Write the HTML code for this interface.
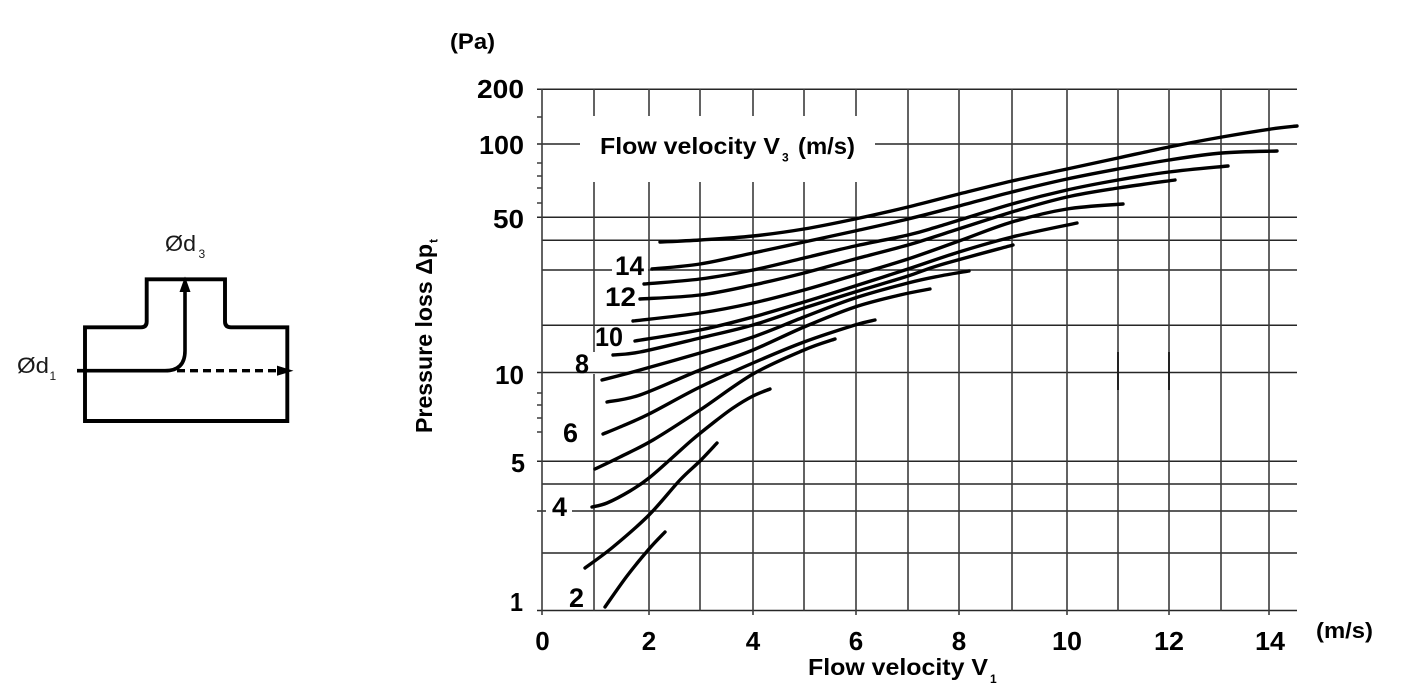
<!DOCTYPE html>
<html>
<head>
<meta charset="utf-8">
<style>
  html, body { margin: 0; padding: 0; background: #ffffff; }
  svg { display: block; }
  text { font-family: "Liberation Sans", Arial, sans-serif; }
</style>
</head>
<body>
<svg id="chart" width="1404" height="699" viewBox="0 0 1404 699" xmlns="http://www.w3.org/2000/svg">
  <rect x="0" y="0" width="1404" height="699" fill="#ffffff"/>

  <!-- ================= Horizontal grid lines ================= -->
  <g stroke="#262626" stroke-width="1.5" fill="none">
    <line x1="537" y1="89.3" x2="1297" y2="89.3"/>
    <line x1="537" y1="144" x2="580" y2="144"/>
    <line x1="875" y1="144" x2="1297" y2="144"/>
    <line x1="537" y1="217.3" x2="1297" y2="217.3"/>
    <line x1="542" y1="240.3" x2="1297" y2="240.3"/>
    <line x1="542" y1="270" x2="1297" y2="270"/>
    <line x1="542" y1="325.3" x2="1297" y2="325.3"/>
    <line x1="537" y1="372.5" x2="1297" y2="372.5"/>
    <line x1="537" y1="461.3" x2="1297" y2="461.3"/>
    <line x1="542" y1="484" x2="1297" y2="484"/>
    <line x1="537" y1="511" x2="546" y2="511"/>
    <line x1="572" y1="511" x2="1297" y2="511"/>
    <line x1="542" y1="553" x2="1297" y2="553"/>
    <line x1="537" y1="610.5" x2="1297" y2="610.5"/>
  </g>

  <!-- minor ticks on left axis -->
  <g stroke="#2e2e2e" stroke-width="1.4">
    <line x1="537" y1="117" x2="542" y2="117"/>
    <line x1="537" y1="163" x2="542" y2="163"/>
    <line x1="537" y1="176" x2="542" y2="176"/>
    <line x1="537" y1="188" x2="542" y2="188"/>
    <line x1="537" y1="203" x2="542" y2="203"/>
    <line x1="537" y1="393" x2="542" y2="393"/>
    <line x1="537" y1="405" x2="542" y2="405"/>
    <line x1="537" y1="418" x2="542" y2="418"/>
    <line x1="537" y1="432" x2="542" y2="432"/>
  </g>

  <!-- ================= Vertical grid lines ================= -->
  <g stroke="#3c3c3c" stroke-width="1.6" fill="none">
    <line x1="542" y1="89" x2="542" y2="615"/>
    <line x1="594" y1="89" x2="594" y2="116"/>
    <line x1="594" y1="182" x2="594" y2="352"/>
    <line x1="594" y1="374" x2="594" y2="610.5"/>
    <line x1="649" y1="89" x2="649" y2="116"/>
    <line x1="649" y1="182" x2="649" y2="615"/>
    <line x1="700" y1="89" x2="700" y2="116"/>
    <line x1="700" y1="182" x2="700" y2="610.5"/>
    <line x1="753" y1="89" x2="753" y2="116"/>
    <line x1="753" y1="182" x2="753" y2="615"/>
    <line x1="804" y1="89" x2="804" y2="116"/>
    <line x1="804" y1="182" x2="804" y2="610.5"/>
    <line x1="856" y1="89" x2="856" y2="116"/>
    <line x1="856" y1="182" x2="856" y2="615"/>
    <line x1="908" y1="89" x2="908" y2="610.5"/>
    <line x1="959" y1="89" x2="959" y2="615"/>
    <line x1="1012" y1="89" x2="1012" y2="610.5"/>
    <line x1="1067" y1="89" x2="1067" y2="615"/>
    <line x1="1118" y1="89" x2="1118" y2="610.5"/>
    <line x1="1169" y1="89" x2="1169" y2="615"/>
    <line x1="1221" y1="89" x2="1221" y2="610.5"/>
    <line x1="1269" y1="89" x2="1269" y2="615"/>
  </g>
  <!-- small darker marks -->
  <g stroke="#1c1c1c" stroke-width="1.9">
    <line x1="1118" y1="352" x2="1118" y2="390"/>
    <line x1="1169" y1="352" x2="1169" y2="390"/>
  </g>

  <!-- ================= Curves ================= -->
  <g id="curves" fill="none" stroke="#000" stroke-width="3.4" stroke-linecap="round" stroke-linejoin="round">
    <polyline points="660,242 700,240 753,236 804,229 855,219 908,207 959,194 1012,181 1067,169 1118,158 1169,147 1222,137 1271,129 1297,126"/>
    <polyline points="652,269 700,264 753,253 804,242 855,231 908,219 959,206 1012,192 1067,179 1118,169 1169,160 1222,153 1277,151"/>
    <polyline points="644,284 700,279 753,270 804,258 855,246 908,235 940,226 1012,204 1067,190 1118,180 1169,172 1228,166"/>
    <polyline points="640,299 700,295 753,285 804,273 855,259 908,245 940,235 1012,212 1067,197 1118,188 1175,180"/>
    <polyline points="633,321 700,313 753,303 804,290 855,275 908,259 959,241 1012,222 1067,209 1123,204"/>
    <polyline points="635,341 700,330 753,317 804,302 855,286 908,269 959,252 1012,237 1077,223"/>
    <polyline points="613,355 640,352 700,338 753,325 804,308 855,292 908,276 940,265 1013,245"/>
    <polyline points="602,380 640,370 700,353 753,337 804,317 855,298 908,283 940,276 969,271"/>
    <polyline points="607,402 640,395 700,370 753,350 804,327 855,307 900,295 930,289"/>
    <polyline points="603,434 620,427 649,414 700,387 753,363 804,342 855,325 875,320"/>
    <polyline points="595,469 620,457 653,440 700,410 753,374 804,350 835,339"/>
    <polyline points="592,507 607,503 630,491 649,478 673,457 692,440 713,423 733,408 753,396 770,389"/>
    <polyline points="585,568 613,547 649,515 680,480 700,461 717,443"/>
    <polyline points="605,607 627,576 649,549 665,532"/>
  </g>

  <!-- ================= Curve labels ================= -->
  <rect x="612" y="253" width="36" height="24" fill="#fff"/>
  <g font-size="27" font-weight="bold" fill="#000">
    <text x="615" y="275" textLength="29" lengthAdjust="spacingAndGlyphs">14</text>
    <text x="605" y="306" textLength="31" lengthAdjust="spacingAndGlyphs">12</text>
    <text x="595" y="346" textLength="28" lengthAdjust="spacingAndGlyphs">10</text>
    <text x="575" y="373" textLength="14" lengthAdjust="spacingAndGlyphs">8</text>
    <text x="563" y="442" textLength="15" lengthAdjust="spacingAndGlyphs">6</text>
    <text x="552" y="516" textLength="15" lengthAdjust="spacingAndGlyphs">4</text>
    <text x="569" y="607" textLength="15" lengthAdjust="spacingAndGlyphs">2</text>
  </g>

  <!-- ================= Axis tick labels ================= -->
  <g font-size="26" font-weight="bold" fill="#000" text-anchor="end">
    <text x="524" y="98" textLength="47" lengthAdjust="spacingAndGlyphs">200</text>
    <text x="524" y="154" textLength="45" lengthAdjust="spacingAndGlyphs">100</text>
    <text x="524" y="228" textLength="31" lengthAdjust="spacingAndGlyphs">50</text>
    <text x="524" y="384" textLength="29" lengthAdjust="spacingAndGlyphs">10</text>
    <text x="525" y="472" textLength="14" lengthAdjust="spacingAndGlyphs">5</text>
    <text x="523" y="611" textLength="13" lengthAdjust="spacingAndGlyphs">1</text>
  </g>
  <g font-size="26" font-weight="bold" fill="#000" text-anchor="middle">
    <text x="542.5" y="650">0</text>
    <text x="649" y="650">2</text>
    <text x="753" y="650">4</text>
    <text x="856" y="650">6</text>
    <text x="959" y="650">8</text>
    <text x="1067" y="650" textLength="30" lengthAdjust="spacingAndGlyphs">10</text>
    <text x="1169" y="650" textLength="30" lengthAdjust="spacingAndGlyphs">12</text>
    <text x="1270" y="650" textLength="30" lengthAdjust="spacingAndGlyphs">14</text>
  </g>

  <!-- units -->
  <text x="450" y="49" font-size="22" font-weight="bold" fill="#000" textLength="45" lengthAdjust="spacingAndGlyphs">(Pa)</text>
  <text x="1316" y="638" font-size="22" font-weight="bold" fill="#000" textLength="57" lengthAdjust="spacingAndGlyphs">(m/s)</text>

  <!-- Top in-chart label -->
  <text x="600" y="154" font-size="23" font-weight="bold" fill="#000" textLength="180" lengthAdjust="spacingAndGlyphs">Flow velocity V</text>
  <text x="782" y="161.5" font-size="12" font-weight="bold" fill="#000">3</text>
  <text x="798" y="154" font-size="23" font-weight="bold" fill="#000" textLength="57" lengthAdjust="spacingAndGlyphs">(m/s)</text>

  <!-- Bottom x-axis title -->
  <text x="808" y="675" font-size="23" font-weight="bold" fill="#000" textLength="180" lengthAdjust="spacingAndGlyphs">Flow velocity V</text>
  <text x="990" y="683" font-size="12" font-weight="bold" fill="#000">1</text>

  <!-- Y-axis title (rotated) -->
  <g transform="translate(432,433) rotate(-90)">
    <text x="0" y="0" font-size="23" font-weight="bold" fill="#000" textLength="189" lengthAdjust="spacingAndGlyphs">Pressure loss Δp</text>
    <text x="190" y="5.5" font-size="12" font-weight="bold" fill="#000">t</text>
  </g>

  <!-- ================= T-piece diagram ================= -->
  <g fill="none" stroke="#000" stroke-width="3.9" stroke-linejoin="miter">
    <path d="M85,327.3 H141 Q146.7,327.3 146.7,321.5 V279.3 H225 V321.5 Q225,327.3 231,327.3 H287.3 V421 H85 Z"/>
  </g>
  <path d="M77,370.7 H165 Q185,370.7 185,350.7 V290" fill="none" stroke="#000" stroke-width="3.6"/>
  <polygon points="185,276.5 179.5,292 190.5,292" fill="#000"/>
  <line x1="177" y1="370.7" x2="280" y2="370.7" stroke="#000" stroke-width="3.4" stroke-dasharray="8,5"/>
  <polygon points="293.5,370.7 277,365.6 277,375.8" fill="#000"/>

  <!-- diameters -->
  <text x="165" y="251" font-size="22" fill="#1a1a1a" textLength="31" lengthAdjust="spacingAndGlyphs">Ød</text>
  <text x="198.5" y="258" font-size="12" fill="#1a1a1a">3</text>
  <text x="17" y="373" font-size="22" fill="#1a1a1a" textLength="32" lengthAdjust="spacingAndGlyphs">Ød</text>
  <text x="49.5" y="380" font-size="12" fill="#1a1a1a">1</text>
</svg>
<script>
(function(){
  try {
    var ns = "http://www.w3.org/2000/svg";
    var pls = document.querySelectorAll("#curves polyline");
    for (var i = 0; i < pls.length; i++) {
      var pl = pls[i];
      var raw = pl.getAttribute("points").trim().split(/\s+/);
      var p = raw.map(function(s){ var a = s.split(","); return [parseFloat(a[0]), parseFloat(a[1])]; });
      if (p.length < 3) continue;
      var d = "M" + p[0][0] + "," + p[0][1];
      for (var k = 0; k < p.length - 1; k++) {
        var p0 = p[k > 0 ? k - 1 : 0], p1 = p[k], p2 = p[k + 1], p3 = p[k + 2 < p.length ? k + 2 : p.length - 1];
        var c1x = p1[0] + (p2[0] - p0[0]) / 6, c1y = p1[1] + (p2[1] - p0[1]) / 6;
        var c2x = p2[0] - (p3[0] - p1[0]) / 6, c2y = p2[1] - (p3[1] - p1[1]) / 6;
        d += " C" + c1x.toFixed(2) + "," + c1y.toFixed(2) + " " + c2x.toFixed(2) + "," + c2y.toFixed(2) + " " + p2[0] + "," + p2[1];
      }
      var path = document.createElementNS(ns, "path");
      path.setAttribute("d", d);
      pl.parentNode.replaceChild(path, pl);
    }
  } catch (e) {}
})();
</script>
</body>
</html>
